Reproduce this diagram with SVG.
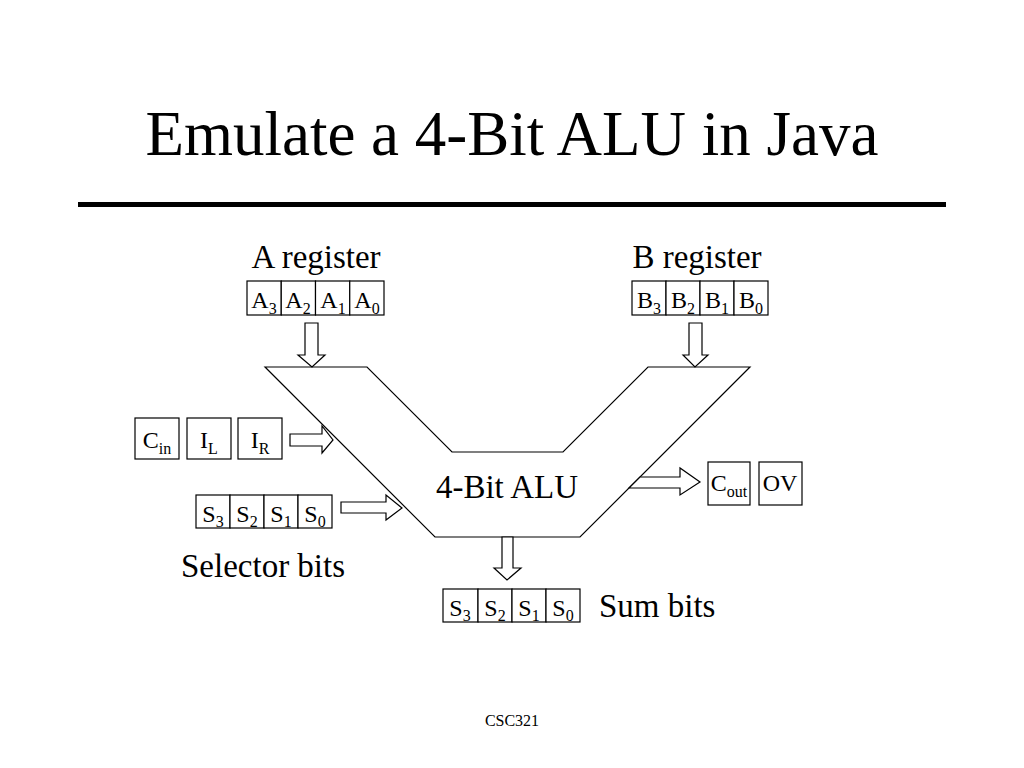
<svg xmlns="http://www.w3.org/2000/svg" width="1024" height="768" viewBox="0 0 1024 768">
<style>
text{font-family:"Liberation Serif","Times New Roman",serif;fill:#000}
.box{fill:#fff;stroke:#000;stroke-width:1.2}
.arr{fill:#fff;stroke:#000;stroke-width:1.2}
.c{font-family:"Liberation Serif","Times New Roman",serif;font-size:24px;text-anchor:middle}
.s{font-size:16px}
.lbl{font-family:"Liberation Serif","Times New Roman",serif;font-size:33px}
</style>
<rect width="1024" height="768" fill="#fff"/>
<text x="512" y="155" font-family="Liberation Serif, Times New Roman, serif" font-size="63" text-anchor="middle">Emulate a 4-Bit ALU in Java</text>
<rect x="78" y="202" width="868" height="5" fill="#000"/>

<g id="alu">
<polygon points="265,367 367,367 452,452 563,452 648,367 750,367 580,537 435,537" fill="#fff" stroke="#000" stroke-width="1.2"/>
<text x="507" y="498" class="lbl" font-family="Liberation Serif, Times New Roman, serif" font-size="32" text-anchor="middle">4-Bit ALU</text>
</g>

<g id="connectors">
<polygon class="arr" points="305,323 318,323 318,355 325,355 312,367 298,355 305,355"/>
<polygon class="arr" points="689,323 702,323 702,355 708,355 695,367 683,355 689,355"/>
<polygon class="arr" points="290,434 322,434 322,426 333,440 322,453 322,446 290,446"/>
<polygon class="arr" points="341,502 386,502 386,495 402,508 386,520 386,513 341,513"/>
<polygon class="arr" points="640,477 680,477 680,468 700,482 680,495 680,488 629,488"/>
<polygon class="arr" points="502,537 513,537 513,568 521,568 507,580 494,568 502,568"/>
</g>

<g id="a-register">
<text x="316" y="268" class="lbl" font-family="Liberation Serif, Times New Roman, serif" text-anchor="middle">A register</text>
<rect class="box" x="247" y="281" width="34.25" height="34"/>
<rect class="box" x="281.25" y="281" width="34.25" height="34"/>
<rect class="box" x="315.5" y="281" width="34.25" height="34"/>
<rect class="box" x="349.75" y="281" width="34.25" height="34"/>
<text x="264" y="308" class="c">A<tspan class="s" dy="6">3</tspan></text>
<text x="298" y="308" class="c">A<tspan class="s" dy="6">2</tspan></text>
<text x="333" y="308" class="c">A<tspan class="s" dy="6">1</tspan></text>
<text x="367" y="308" class="c">A<tspan class="s" dy="6">0</tspan></text>
</g>

<g id="b-register">
<text x="697" y="268" class="lbl" font-family="Liberation Serif, Times New Roman, serif" text-anchor="middle">B register</text>
<rect class="box" x="632" y="281" width="34" height="34"/>
<rect class="box" x="666" y="281" width="34" height="34"/>
<rect class="box" x="700" y="281" width="34" height="34"/>
<rect class="box" x="734" y="281" width="34" height="34"/>
<text x="649" y="308" class="c">B<tspan class="s" dy="6">3</tspan></text>
<text x="683" y="308" class="c">B<tspan class="s" dy="6">2</tspan></text>
<text x="717" y="308" class="c">B<tspan class="s" dy="6">1</tspan></text>
<text x="751" y="308" class="c">B<tspan class="s" dy="6">0</tspan></text>
</g>

<g id="cin">
<rect class="box" x="135" y="418" width="44" height="41"/>
<text x="157" y="448" class="c">C<tspan class="s" dy="6">in</tspan></text>
</g>
<g id="il">
<rect class="box" x="187" y="418" width="44" height="41"/>
<text x="209" y="448" class="c">I<tspan class="s" dy="6">L</tspan></text>
</g>
<g id="ir">
<rect class="box" x="238" y="418" width="44" height="41"/>
<text x="260" y="448" class="c">I<tspan class="s" dy="6">R</tspan></text>
</g>

<g id="selector">
<rect class="box" x="196" y="495" width="34" height="33"/>
<rect class="box" x="230" y="495" width="34" height="33"/>
<rect class="box" x="264" y="495" width="34" height="33"/>
<rect class="box" x="298" y="495" width="34" height="33"/>
<text x="213" y="522" class="c">S<tspan class="s" dy="5">3</tspan></text>
<text x="247" y="522" class="c">S<tspan class="s" dy="5">2</tspan></text>
<text x="281" y="522" class="c">S<tspan class="s" dy="5">1</tspan></text>
<text x="315" y="522" class="c">S<tspan class="s" dy="5">0</tspan></text>
<text x="181" y="577" class="lbl" font-family="Liberation Serif, Times New Roman, serif">Selector bits</text>
</g>

<g id="cout">
<rect class="box" x="708" y="462" width="42" height="43"/>
<text x="729" y="491" class="c">C<tspan class="s" dy="6">out</tspan></text>
</g>
<g id="ov">
<rect class="box" x="759" y="462" width="43" height="43"/>
<text x="780" y="491" class="c">OV</text>
</g>

<g id="sum">
<rect class="box" x="443" y="589" width="35" height="33"/>
<rect class="box" x="478" y="589" width="34" height="33"/>
<rect class="box" x="512" y="589" width="34" height="33"/>
<rect class="box" x="546" y="589" width="34" height="33"/>
<text x="460" y="616" class="c">S<tspan class="s" dy="5">3</tspan></text>
<text x="495" y="616" class="c">S<tspan class="s" dy="5">2</tspan></text>
<text x="529" y="616" class="c">S<tspan class="s" dy="5">1</tspan></text>
<text x="563" y="616" class="c">S<tspan class="s" dy="5">0</tspan></text>
<text x="599" y="617" class="lbl" font-family="Liberation Serif, Times New Roman, serif">Sum bits</text>
</g>

<text x="512" y="726" font-family="Liberation Serif, Times New Roman, serif" font-size="16" text-anchor="middle">CSC321</text>
</svg>
